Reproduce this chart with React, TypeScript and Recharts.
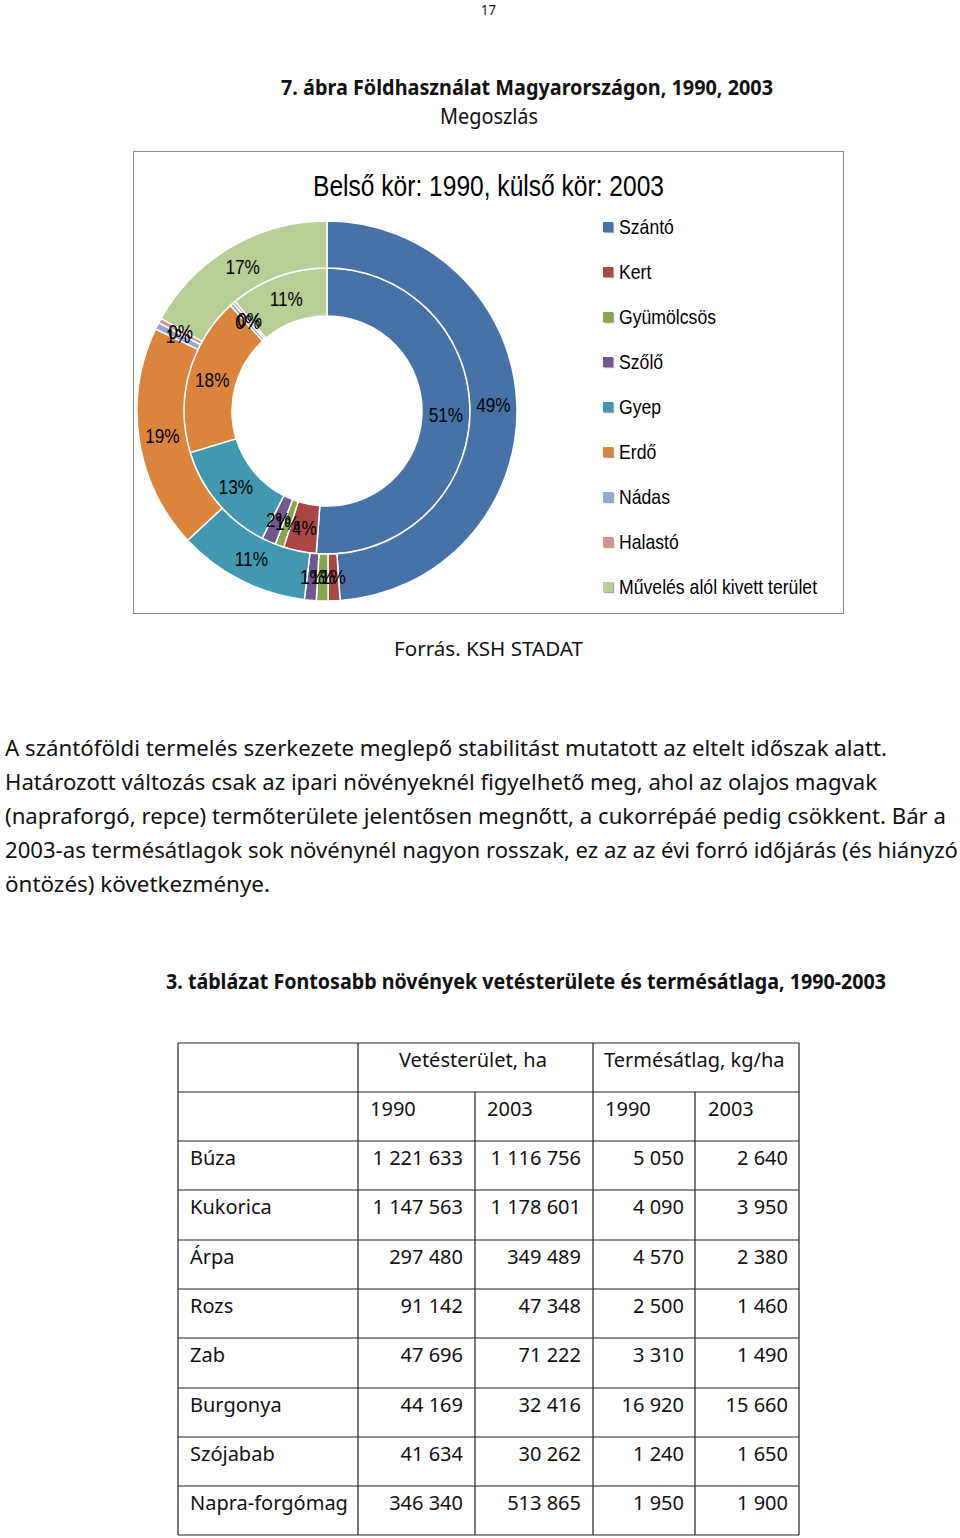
import { PieChart, Pie, Cell, Legend } from 'recharts';

// Land use categories, same order as the Excel legend
const landCategories = [
  'Szántó',
  'Kert',
  'Gyümölcsös',
  'Szőlő',
  'Gyep',
  'Erdő',
  'Nádas',
  'Halastó',
  'Művelés alól kivett terület',
];
// shares in percent (inner ring = 1990, outer ring = 2003)
const share1990 = [51.2, 3.7, 1.0, 1.6, 12.8, 17.9, 0.4, 0.3, 11.1];
const share2003 = [48.9, 1.0, 1.0, 1.0, 11.2, 19.0, 0.6, 0.4, 16.9];
const landColors = ['#4672A8', '#AA4643', '#89A54E', '#71588F', '#4198AF', '#DB843D', '#93A9CF', '#D19392', '#B9CD96'];

// 3. táblázat
const crops = ['Búza', 'Kukorica', 'Árpa', 'Rozs', 'Zab', 'Burgonya', 'Szójabab', 'Napra-forgómag'];
const area1990 = [1221633, 1147563, 297480, 91142, 47696, 44169, 41634, 346340];
const area2003 = [1116756, 1178601, 349489, 47348, 71222, 32416, 30262, 513865];
const yield1990 = [5050, 4090, 4570, 2500, 3310, 16920, 1240, 1950];
const yield2003 = [2640, 3950, 2380, 1460, 1490, 15660, 1650, 1900];
const tableYears = ['1990', '2003', '1990', '2003'];

const paragraph = [
  'A szántóföldi termelés szerkezete meglepő stabilitást mutatott az eltelt időszak alatt.',
  'Határozott változás csak az ipari növényeknél figyelhető meg, ahol az olajos magvak',
  '(napraforgó, repce) termőterülete jelentősen megnőtt, a cukorrépáé pedig csökkent. Bár a',
  '2003-as termésátlagok sok növénynél nagyon rosszak, ez az az évi forró időjárás (és hiányzó',
  'öntözés) következménye.',
];
const paragraphWidths = [882, 872, 941, 953, 265];

const PAGE_FONT = '"Noto Sans", "Open Sans", sans-serif';
const CHART_FONT = '"Liberation Sans", Arial, sans-serif';
// Excel drew the chart text in a condensed Arial; squeeze it horizontally
const SQUEEZE = 0.84;

const RAD = Math.PI / 180;

const fmt = (n: number) => n.toString().replace(/\B(?=(\d{3})+(?!\d))/g, ' ');

function renderPct(props: any) {
  const { cx, cy, midAngle, innerRadius, outerRadius, percent } = props;
  const r = (innerRadius + outerRadius) / 2;
  const x = cx + r * Math.cos(-midAngle * RAD);
  const y = cy + r * Math.sin(-midAngle * RAD);
  return (
    <text
      transform={`translate(${x},${y}) scale(0.86,1)`}
      x={0}
      y={0}
      fill="#000"
      textAnchor="middle"
      dominantBaseline="central"
      fontSize={20}
      fontFamily={CHART_FONT}
    >
      {`${Math.round(percent * 100)}%`}
    </text>
  );
}

function LandLegend() {
  return (
    <div style={{ fontFamily: CHART_FONT, fontSize: 21, color: '#000' }}>
      {landCategories.map((name, i) => (
        <div key={name} style={{ height: 45, display: 'flex', alignItems: 'center', whiteSpace: 'nowrap' }}>
          <span
            style={{
              width: 10,
              height: 10,
              background: landColors[i],
              boxShadow: '1px 1px 1px rgba(0,0,0,0.35)',
              marginRight: 6,
              flex: 'none',
            }}
          />
          <span style={{ display: 'inline-block', transform: `scaleX(${SQUEEZE})`, transformOrigin: 'left center' }}>
            {name}
          </span>
        </div>
      ))}
    </div>
  );
}

/** SVG text squeezed / stretched to the measured width of the original line */
function Fit({ x, y, w, size, bold, family = PAGE_FONT, fill = '#111', children }: {
  x: number; y: number; w: number; size: number; bold?: boolean; family?: string; fill?: string; children: string;
}) {
  return (
    <text
      x={x}
      y={y}
      textLength={w}
      lengthAdjust="spacingAndGlyphs"
      fontSize={size}
      fontWeight={bold ? 700 : 400}
      fontFamily={family}
      fill={fill}
    >
      {children}
    </text>
  );
}

function CropTable() {
  const rowLines = [1043, 1092, 1141, 1190, 1240, 1289, 1338, 1388, 1437, 1486, 1535];
  const colX = [178, 358, 475, 593, 695, 799];
  const rightEdge = [463, 581, 684, 788];
  const txt = { fontSize: 20, fontFamily: PAGE_FONT, fill: '#111' };
  const baseline = (row: number) => (rowLines[row] + rowLines[row + 1]) / 2 - 1;
  return (
    <g>
      {rowLines.map((y) => (
        <line key={y} x1={colX[0]} x2={colX[5]} y1={y} y2={y} stroke="#222" strokeWidth={1.2} />
      ))}
      {colX.map((x, i) => (
        <line
          key={x}
          x1={x}
          x2={x}
          y1={i === 2 || i === 4 ? rowLines[1] : rowLines[0]}
          y2={rowLines[rowLines.length - 1]}
          stroke="#222"
          strokeWidth={1.2}
        />
      ))}
      <text {...txt} x={399} y={baseline(0)}>Vetésterület, ha</text>
      <text {...txt} x={604} y={baseline(0)}>Termésátlag, kg/ha</text>
      {tableYears.map((yr, i) => (
        <text key={i} {...txt} x={[370, 487, 605, 708][i]} y={baseline(1)}>{yr}</text>
      ))}
      {crops.map((c, r) => {
        const vals = [area1990[r], area2003[r], yield1990[r], yield2003[r]];
        return (
          <g key={c}>
            <text {...txt} x={190} y={baseline(r + 2)}>{c}</text>
            {vals.map((v, i) => (
              <text key={i} {...txt} x={rightEdge[i]} y={baseline(r + 2)} textAnchor="end">{fmt(v)}</text>
            ))}
          </g>
        );
      })}
    </g>
  );
}

export default function App() {
  const data = landCategories.map((name, i) => ({ name, y1990: share1990[i], y2003: share2003[i] }));

  return (
    <div style={{ position: 'absolute', left: 0, top: 0, width: 960, height: 1538, background: '#fff' }}>
      <svg width={960} height={1538} style={{ position: 'absolute', left: 0, top: 0 }}>
        <Fit x={481} y={15} w={15} size={15}>17</Fit>
        <Fit x={281} y={95} w={492} size={21} bold>7. ábra Földhasználat Magyarországon, 1990, 2003</Fit>
        <Fit x={440} y={124} w={98} size={21}>Megoszlás</Fit>
        <Fit x={394} y={656} w={189} size={20}>Forrás. KSH STADAT</Fit>
        {paragraph.map((line, i) => (
          <Fit key={i} x={5} y={756 + i * 34} w={paragraphWidths[i]} size={21}>{line}</Fit>
        ))}
        <Fit x={166} y={989} w={720} size={21} bold>3. táblázat Fontosabb növények vetésterülete és termésátlaga, 1990-2003</Fit>
        <CropTable />
      </svg>

      <div
        style={{
          position: 'absolute',
          left: 133,
          top: 151,
          width: 711,
          height: 463,
          border: '1px solid #8c8c8c',
          boxSizing: 'border-box',
          background: '#fff',
        }}
      >
        <svg width={709} height={60} style={{ position: 'absolute', left: 0, top: 0 }}>
          <Fit x={179} y={44} w={351} size={29} family={CHART_FONT} fill="#000">
            Belső kör: 1990, külső kör: 2003
          </Fit>
        </svg>
        <PieChart width={709} height={461} margin={{ top: 0, right: 0, bottom: 0, left: 0 }}>
          <Pie
            data={data}
            dataKey="y1990"
            nameKey="name"
            cx={193}
            cy={259}
            innerRadius={95}
            outerRadius={143}
            startAngle={90}
            endAngle={-270}
            stroke="#fff"
            strokeWidth={1.5}
            label={renderPct}
            labelLine={false}
            isAnimationActive={false}
          >
            {data.map((d, i) => (
              <Cell key={d.name} fill={landColors[i]} />
            ))}
          </Pie>
          <Pie
            data={data}
            dataKey="y2003"
            nameKey="name"
            cx={193}
            cy={259}
            innerRadius={143}
            outerRadius={190}
            startAngle={90}
            endAngle={-270}
            stroke="#fff"
            strokeWidth={1.5}
            label={renderPct}
            labelLine={false}
            isAnimationActive={false}
          >
            {data.map((d, i) => (
              <Cell key={d.name} fill={landColors[i]} />
            ))}
          </Pie>
          <Legend
            layout="vertical"
            content={() => <LandLegend />}
            wrapperStyle={{ position: 'absolute', left: 469, top: 52, width: 240 }}
          />
        </PieChart>
      </div>
    </div>
  );
}
